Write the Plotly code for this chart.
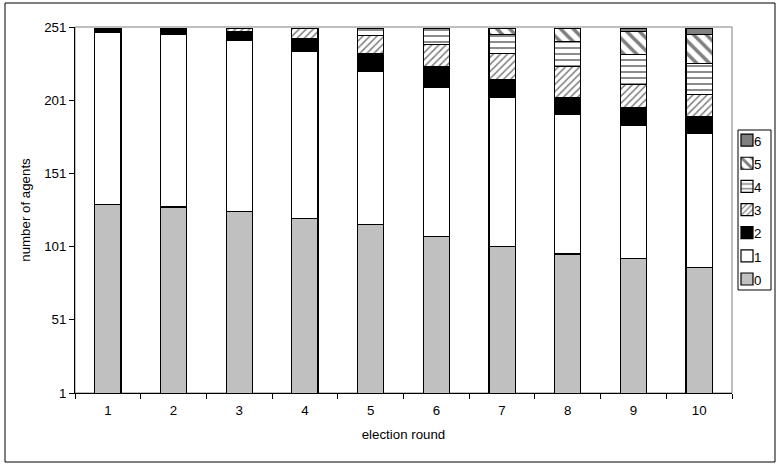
import plotly.graph_objects as go

rounds = ['1', '2', '3', '4', '5', '6', '7', '8', '9', '10']
categories = ['0', '1', '2', '3', '4', '5', '6']
s0 = [130, 128, 125, 120, 116, 108, 101, 96, 93, 87]
s1 = [117, 118, 117, 114, 105, 102, 102, 95, 91, 91]
s2 = [3, 4, 6, 9, 12, 14, 12, 12, 12, 12]
s3 = [0, 0, 2, 7, 12, 15, 18, 21, 16, 15]
s4 = [0, 0, 0, 0, 5, 11, 13, 17, 20, 21]
s5 = [0, 0, 0, 0, 0, 0, 4, 9, 16, 20]
s6 = [0, 0, 0, 0, 0, 0, 0, 0, 2, 4]
series = [s0, s1, s2, s3, s4, s5, s6]
y_ticks = [1, 51, 101, 151, 201, 251]

styles = [
    dict(color='#c0c0c0'),
    dict(color='#ffffff'),
    dict(color='#000000'),
    dict(color='#ffffff', pattern=dict(shape='/', fgcolor='#000000', bgcolor='#ffffff', size=5, solidity=0.3)),
    dict(color='#ffffff', pattern=dict(shape='-', fgcolor='#000000', bgcolor='#ffffff', size=6, solidity=0.3)),
    dict(color='#ffffff', pattern=dict(shape='\\', fgcolor='#000000', bgcolor='#ffffff', size=9, solidity=0.4)),
    dict(color='#808080'),
]

FONT = 'Liberation Sans, Arial, sans-serif'
FS = 13.3
fig = go.Figure()
for name, vals, st in zip(categories, series, styles):
    fig.add_trace(go.Bar(
        x=rounds, y=[v if v else None for v in vals],
        name=' ',
        marker=dict(line=dict(color='#000000', width=1.2), **st),
    ))

L, R, T, B = 75, 48, 27, 72
W, H = 780, 465
pw, ph = W - L - R, H - T - B

def px(x):
    return (x - L) / pw

def py(y):
    return (H - B - y) / ph

# legend labels (text next to the plotly legend swatches)
label_y0, label_dy = 141, 23.2
annotations = []
for i, name in enumerate(reversed(categories)):
    annotations.append(dict(text=name, xref='paper', yref='paper',
                            x=px(752), y=py(label_y0 + i * label_dy),
                            xanchor='left', yanchor='middle', showarrow=False,
                            font=dict(size=FS, family=FONT, color='#000000')))

fig.update_layout(
    width=W, height=H,
    margin=dict(l=L, r=R, t=T, b=B, pad=0, autoexpand=False),
    barmode='stack', bargap=0.6,
    paper_bgcolor='white', plot_bgcolor='white',
    font=dict(family=FONT, size=FS, color='#000000'),
    showlegend=True,
    legend=dict(traceorder='reversed', font=dict(size=15.5, family=FONT),
                x=px(727), xanchor='left', y=py(123.5), yanchor='top',
                bgcolor='rgba(0,0,0,0)', borderwidth=0,
                itemclick=False, itemdoubleclick=False),
    xaxis=dict(type='category', showline=True, linecolor='#000000', linewidth=1,
               ticks='outside', tickson='boundaries', ticklen=5, tickcolor='#000000',
               showgrid=False, zeroline=False, ticklabelstandoff=5,
               title=dict(text='election round', font=dict(size=FS), standoff=12),
               tickfont=dict(size=FS)),
    yaxis=dict(range=[1, 251], tickvals=y_ticks, ticktext=[str(v) for v in y_ticks],
               showline=True, linecolor='#000000', linewidth=1,
               ticks='outside', ticklen=5, tickcolor='#000000',
               showgrid=False, zeroline=False,
               title=dict(text='number of agents', font=dict(size=FS), standoff=10),
               tickfont=dict(size=FS)),
    annotations=annotations,
    shapes=[
        dict(type='rect', xref='paper', yref='paper', x0=0, x1=1, y0=0, y1=1,
             line=dict(color='#808080', width=1), layer='below'),
        dict(type='rect', xref='paper', yref='paper', x0=px(5), x1=px(775), y0=py(462), y1=py(3),
             line=dict(color='#000000', width=1)),
        dict(type='rect', xref='paper', yref='paper', x0=px(738), x1=px(771), y0=py(290), y1=py(130),
             line=dict(color='#000000', width=1)),
    ],
)

fig.write_html('out.html')
